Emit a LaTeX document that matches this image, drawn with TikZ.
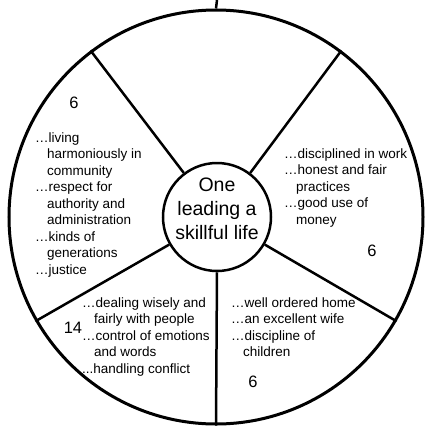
\documentclass[tikz,border=0pt]{standalone}
\usepackage{fontspec}
\setmainfont{Liberation Sans}
\newcommand{\wrapin}{\hspace*{12pt}}
\begin{document}
\begin{tikzpicture}[x=1pt, y=-1pt,
  wheel/.style={circle, draw, inner sep=0pt},
  pointlist/.style={anchor=base west, align=left, inner sep=0pt, font=\fontsize{13.5}{16.5}\selectfont},
  score/.style={inner sep=0pt, font=\fontsize{16.5}{18}\selectfont}]
  \useasboundingbox (0,0) rectangle (424,426);

  \node[wheel, line width=3pt, minimum size=414pt] (rim) at (216,217) {};
  \node[wheel, line width=2.5pt, minimum size=108pt] (hub) at (217,217) {};
  \node[align=center, inner sep=0pt, font=\fontsize{19.5}{24}\selectfont] (motto)
    at ([yshift=8pt]hub.center) {One\\leading a\\skillful life};

  \coordinate (top) at (217,0);
  \draw[line width=2.5pt] (rim.north) -- (top);
  \foreach \a in {53,127,210,270,330} {
   \draw[line width=2.5pt] (hub.\a) -- (rim.\a);
  }

  % left sector (anchored at last baseline)
  \node[score] (sixa) at (74,103) {6};
  \node[pointlist] (community) at (35,274) {…living\\
    \wrapin harmoniously in\\ \wrapin community\\
    …respect for\\ \wrapin authority and\\ \wrapin administration\\
    …kinds of\\ \wrapin generations\\ …justice};

  % right sector
  \node[pointlist] (work) at (284,224) {…disciplined in work\\
    …honest and fair\\ \wrapin practices\\
    …good use of\\ \wrapin money};
  \node[score] (sixb) at (372,251) {6};

  % bottom right sector
  \node[pointlist] (home) at (231,356.5) {…well ordered home\\
    …an excellent wife\\ …discipline of\\ \wrapin children};
  \node[score] (sixc) at (253,382) {6};

  % bottom left sector
  \node[pointlist] (people) at (82,373) {…dealing wisely and\\
    \wrapin fairly with people\\ …control of emotions\\
    \wrapin and words\\ ...handling conflict};
  \node[score] (fourteen) at (73,328) {14};
\end{tikzpicture}
\end{document}
